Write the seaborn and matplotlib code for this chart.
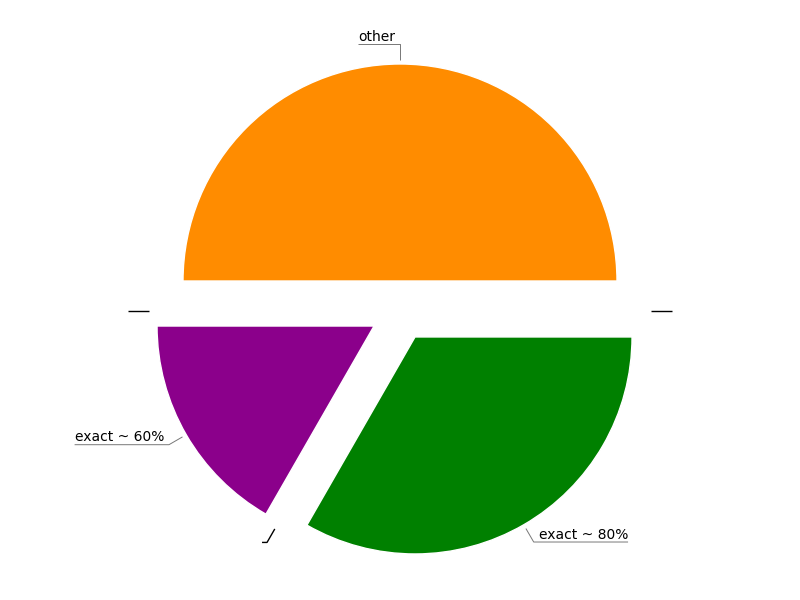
import numpy as np
import seaborn as sns
import matplotlib.pyplot as plt

# slices, counter-clockwise from 3 o'clock; empty labels are zero-size slices
labels = ["other", "", "exact ~ 60%", "", "exact ~ 80%", ""]
shares = [50.0, 0.0, 16.7, 0.0, 33.3, 0.0]
colors = ["#ff8c00", "#ffffff", "#8b008b", "#ffffff", "#008000", "#ffffff"]

sns.set_theme(style="white")
plt.rcParams['font.family'] = ['DejaVu Sans']

fig = plt.figure(figsize=(8, 6), dpi=100)
ax = fig.add_axes([0, 0, 1, 1])

px = 217.0  # pixels per unit radius
explode_r = 30 / px
wedges, _ = ax.pie(shares, colors=colors, startangle=0, counterclock=True,
                   explode=[explode_r] * len(shares), radius=1.0)

ax.set_xlim(-400 / px, 400 / px)
ax.set_ylim(-289 / px, 311 / px)
ax.set_aspect("equal")
ax.axis("off")

renderer = fig.canvas.get_renderer()
pad = 5 / px
for w, lab in zip(wedges, labels):
    ang = np.deg2rad((w.theta1 + w.theta2) / 2)
    c, s = np.cos(ang), np.sin(ang)
    p = ((explode_r + 1.02) * c, (explode_r + 1.02) * s)
    e = (1.23 * c, 1.23 * s)
    side = 1 if c > 1e-6 else -1
    if lab:
        t = ax.text(e[0] + side * pad, e[1] + 3.5 / px, lab, fontsize=10,
                    ha="left" if side > 0 else "right", va="baseline",
                    color="black")
        bb = t.get_window_extent(renderer)
        tw = bb.width / px
        end = e[0] + side * (pad + tw)
        lc, lw = "#777777", 0.7
    else:
        end = e[0] + side * pad
        lc, lw = "black", 1.0
    ax.plot([p[0], e[0], end], [p[1], e[1], e[1]], color=lc, lw=lw,
            solid_capstyle="butt")

fig.savefig("out.png", dpi=100)
